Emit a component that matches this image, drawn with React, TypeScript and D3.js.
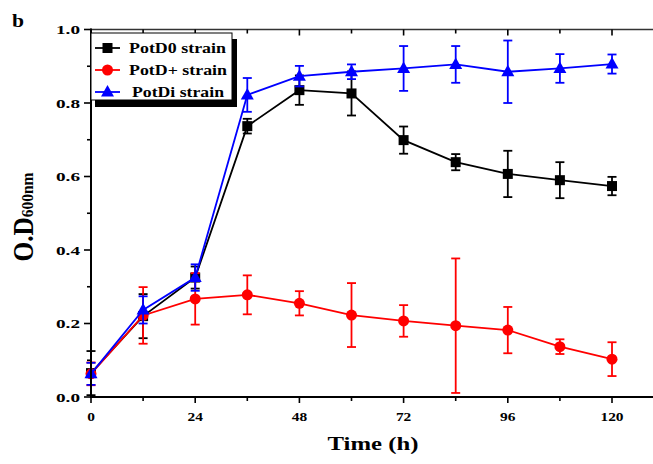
import React from "react";
import * as d3 from "d3";

const times = [0, 12, 24, 36, 48, 60, 72, 84, 96, 108, 120];
const potD0 = [0.065, 0.22, 0.325, 0.737, 0.835, 0.826, 0.699, 0.639, 0.607, 0.59, 0.574];
const potD0Err = [0.06, 0.06, 0.03, 0.02, 0.04, 0.06, 0.037, 0.022, 0.063, 0.049, 0.025];
const potDPlus = [0.063, 0.222, 0.267, 0.278, 0.255, 0.223, 0.207, 0.194, 0.182, 0.137, 0.103];
const potDPlusErr = [0.031, 0.077, 0.07, 0.053, 0.033, 0.087, 0.043, 0.183, 0.063, 0.02, 0.046];
const potDi = [0.063, 0.237, 0.325, 0.822, 0.873, 0.885, 0.894, 0.905, 0.885, 0.894, 0.906];
const potDiErr = [0.03, 0.037, 0.036, 0.046, 0.028, 0.02, 0.061, 0.05, 0.085, 0.039, 0.026];
const seriesNames = ["PotD0 strain", "PotD+ strain", "PotDi strain"];
const xTickLabels = [0, 24, 48, 72, 96, 120];
const yTickLabels = [0.0, 0.2, 0.4, 0.6, 0.8, 1.0];

const FONT = "'Liberation Serif', 'Times New Roman', serif";

export default function App() {
  const W = 653, H = 464;
  const x = d3.scaleLinear().domain([0, 132]).range([91, 91 + 132 * 4.3417]);
  const y = d3.scaleLinear().domain([0, 1]).range([397, 29.5]);
  const line = d3.line<number>().x((_, i) => x(times[i])).y((d) => y(d));

  const series = [
    { name: seriesNames[0], vals: potD0, err: potD0Err, color: "#000000", marker: "square", tl: 97 },
    { name: seriesNames[1], vals: potDPlus, err: potDPlusErr, color: "#ff0000", marker: "circle", tl: 98 },
    { name: seriesNames[2], vals: potDi, err: potDiErr, color: "#0000ff", marker: "triangle", tl: 92 },
  ];

  const marker = (type: string, cx: number, cy: number, color: string, key?: any) => {
    if (type === "square") return <rect key={key} x={cx - 5} y={cy - 5} width={10} height={10} fill={color} />;
    if (type === "circle") return <circle key={key} cx={cx} cy={cy} r={5.5} fill={color} />;
    return <path key={key} d={`M${cx},${cy - 7}L${cx + 6.5},${cy + 4.5}L${cx - 6.5},${cy + 4.5}Z`} fill={color} />;
  };

  const xMinor = d3.range(0, 133, 12);
  const yMinor = d3.range(0, 1.001, 0.1);
  const order = [0, 1, 2];

  return (
    <svg width={W} height={H} style={{ position: "absolute", left: 0, top: 0, background: "#fff" }} fontFamily={FONT}>
      <rect width={W} height={H} fill="#fff" />
      <text x={12} y={27} fontSize={18} fontWeight="bold" textLength={12} lengthAdjust="spacingAndGlyphs">b</text>

      {/* top frame */}
      <line x1={91} x2={W + 10} y1={y(1)} y2={y(1)} stroke="#333" strokeWidth={1.6} />
      {xMinor.map((t) => (
        <line key={"tt" + t} x1={x(t)} x2={x(t)} y1={y(1)} y2={y(1) + (t % 24 === 0 ? 6 : 4)} stroke="#000" strokeWidth={1.6} />
      ))}

      {order.map((si) => {
        const s = series[si];
        return (
          <g key={s.name}>
            <path d={line(s.vals) || ""} fill="none" stroke={s.color} strokeWidth={1.8} />
            {s.vals.map((v, i) => {
              const cx = x(times[i]);
              const top = y(v + s.err[i]);
              const bot = y(Math.max(0, v - s.err[i]));
              return (
                <g key={i} stroke={s.color} strokeWidth={1.8}>
                  <line x1={cx} x2={cx} y1={top} y2={bot} />
                  <line x1={cx - 4.5} x2={cx + 4.5} y1={top} y2={top} />
                  <line x1={cx - 4.5} x2={cx + 4.5} y1={bot} y2={bot} />
                </g>
              );
            })}
            {s.vals.map((v, i) => marker(s.marker, x(times[i]), y(v), s.color, "m" + i))}
          </g>
        );
      })}

      {/* left axis */}
      <line x1={91} x2={91} y1={y(1) - 1} y2={y(0) + 1} stroke="#000" strokeWidth={2} />
      {yMinor.map((v, i) => (
        <line key={"yt" + i} x1={91} x2={91 - (i % 2 === 0 ? 7 : 4)} y1={y(v)} y2={y(v)} stroke="#000" strokeWidth={1.6} />
      ))}
      {yTickLabels.map((v) => (
        <text key={"yl" + v} x={80} y={y(v) + 4.5} fontSize={13.5} fontWeight="bold" textAnchor="end" textLength={24} lengthAdjust="spacingAndGlyphs">{v.toFixed(1)}</text>
      ))}

      {/* bottom axis */}
      <line x1={90} x2={W + 10} y1={y(0)} y2={y(0)} stroke="#000" strokeWidth={2} />
      {xMinor.map((t) => (
        <line key={"bt" + t} x1={x(t)} x2={x(t)} y1={y(0)} y2={y(0) + (t % 24 === 0 ? 6 : 4)} stroke="#000" strokeWidth={1.6} />
      ))}
      {xTickLabels.map((t) => {
        const s = String(t);
        return (
          <text key={"xl" + t} x={x(t)} y={421} fontSize={13.5} fontWeight="bold" textAnchor="middle" textLength={s.length * 7.7} lengthAdjust="spacingAndGlyphs">{s}</text>
        );
      })}

      {/* axis titles */}
      <text x={373} y={450} fontSize={19} fontWeight="bold" textAnchor="middle" textLength={91} lengthAdjust="spacingAndGlyphs">Time (h)</text>
      <text transform="translate(33,217) rotate(-90) scale(1,1.3)" textAnchor="middle" fontWeight="bold" textLength={89} lengthAdjust="spacingAndGlyphs">
        <tspan fontSize={22}>O.D</tspan>
        <tspan fontSize={13.5}>600nm</tspan>
      </text>

      {/* legend */}
      <rect x={95} y={39} width={142} height={68} fill="#000" />
      <rect x={91} y={33} width={141} height={67} fill="#fff" stroke="#000" strokeWidth={1} />
      {series.map((s, i) => {
        const ly = 48 + i * 22;
        return (
          <g key={"lg" + i}>
            <line x1={95} x2={120} y1={ly} y2={ly} stroke={s.color} strokeWidth={1.8} />
            {marker(s.marker, 107.5, ly, s.color)}
            <text x={i === 2 ? 132 : 129} y={ly + 5} fontSize={15} fontWeight="bold" textLength={s.tl} lengthAdjust="spacingAndGlyphs">{s.name}</text>
          </g>
        );
      })}
    </svg>
  );
}
